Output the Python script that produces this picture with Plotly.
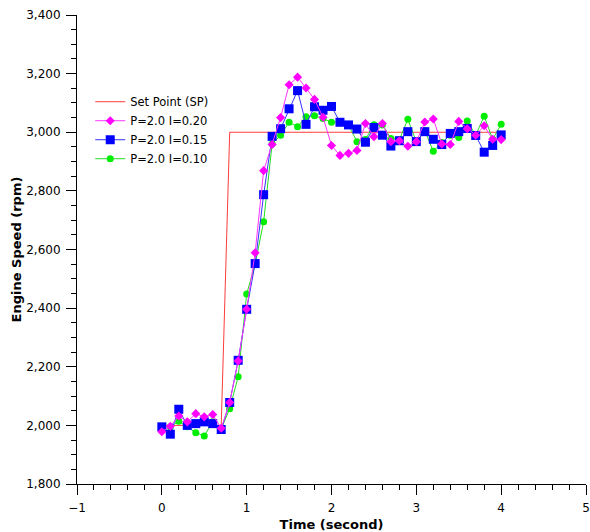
import plotly.graph_objects as go

time = [0.0, 0.1, 0.2, 0.3, 0.4, 0.5, 0.6, 0.7, 0.8, 0.9,
        1.0, 1.1, 1.2, 1.3, 1.4, 1.5, 1.6, 1.7, 1.8, 1.9,
        2.0, 2.1, 2.2, 2.3, 2.4, 2.5, 2.6, 2.7, 2.8, 2.9,
        3.0, 3.1, 3.2, 3.3, 3.4, 3.5, 3.6, 3.7, 3.8, 3.9, 4.0]

sp_time = [0.0, 0.7, 0.8, 4.0]
sp_values = [2000, 2000, 3000, 3000]

i020 = [1978, 1997, 2032, 2012, 2040, 2029, 2037, 1990, 2078, 2220,
        2396, 2589, 2869, 2958, 3050, 3162, 3188, 3151, 3112, 3051,
        2955, 2921, 2928, 2938, 3030, 2985, 3030, 2968, 2971, 2952,
        2968, 3035, 3045, 2960, 2958, 3037, 3012, 2990, 3022, 2976, 2975]

i015 = [1995, 1970, 2055, 2000, 2006, 2012, 2006, 1986, 2078, 2222,
        2396, 2552, 2787, 2986, 3012, 3080, 3142, 3027, 3087, 3075,
        3088, 3034, 3025, 3011, 2966, 3016, 2990, 2953, 2971, 3002,
        2968, 3002, 2976, 2958, 2996, 3002, 3013, 2989, 2932, 2955, 2991]

i010 = [1995, 1995, 2014, 1995, 1975, 1964, 2012, 1988, 2057, 2166,
        2448, 2550, 2695, 2960, 2990, 3034, 3019, 3053, 3056, 3047,
        3034, 3036, 3025, 2968, 2975, 3026, 3025, 2979, 2975, 3044,
        2968, 3005, 2935, 2965, 2990, 2982, 3038, 2990, 3055, 2976, 3027]

font = "DejaVu Sans"

fig = go.Figure()
fig.add_trace(go.Scatter(x=sp_time, y=sp_values, mode="lines", name="Set Point (SP)",
                         line=dict(color="#ff3c3c", width=1), legendrank=1))
fig.add_trace(go.Scatter(x=time, y=i010, mode="lines+markers", name="P=2.0 I=0.10",
                         line=dict(color="#22dd22", width=1),
                         marker=dict(symbol="circle", size=7, color="#00ee00"), legendrank=4))
fig.add_trace(go.Scatter(x=time, y=i015, mode="lines+markers", name="P=2.0 I=0.15",
                         line=dict(color="#3333ff", width=1),
                         marker=dict(symbol="square", size=9, color="#0000ff"), legendrank=3))
fig.add_trace(go.Scatter(x=time, y=i020, mode="lines+markers", name="P=2.0 I=0.20",
                         line=dict(color="#ff33ff", width=1),
                         marker=dict(symbol="diamond", size=7, color="#ff00ff"), legendrank=2))

fig.update_layout(
    width=590, height=532,
    margin=dict(l=77, r=4, t=15, b=48, autoexpand=False),
    paper_bgcolor="white", plot_bgcolor="white",
    font=dict(family=font, size=12, color="black"),
    showlegend=True,
    legend=dict(x=0.026, y=0.846, xanchor="left", yanchor="top",
                bgcolor="rgba(0,0,0,0)", font=dict(size=11.5, family=font),
                tracegroupgap=0, itemwidth=30),
    xaxis=dict(range=[-1, 5], dtick=1, tick0=0, showgrid=False, zeroline=False,
               showline=True, linecolor="black", linewidth=1,
               ticks="outside", ticklen=10, tickcolor="black", ticklabelstandoff=3,
               minor=dict(dtick=0.2, ticks="outside", ticklen=5, tickcolor="black", showgrid=False),
               title=dict(text="<b>Time (second)</b>", standoff=11, font=dict(size=13))),
    yaxis=dict(range=[1800, 3400], dtick=200, tickformat=",d", showgrid=False, zeroline=False,
               showline=True, linecolor="black", linewidth=1,
               ticks="outside", ticklen=10, tickcolor="black", ticklabelstandoff=3,
               minor=dict(dtick=50, ticks="outside", ticklen=5, tickcolor="black", showgrid=False),
               title=dict(text="<b>Engine Speed (rpm)</b>", standoff=1, font=dict(size=13))),
)

fig.write_html("out.html", config={"displayModeBar": False},
               post_script="document.body.style.margin='0';")
